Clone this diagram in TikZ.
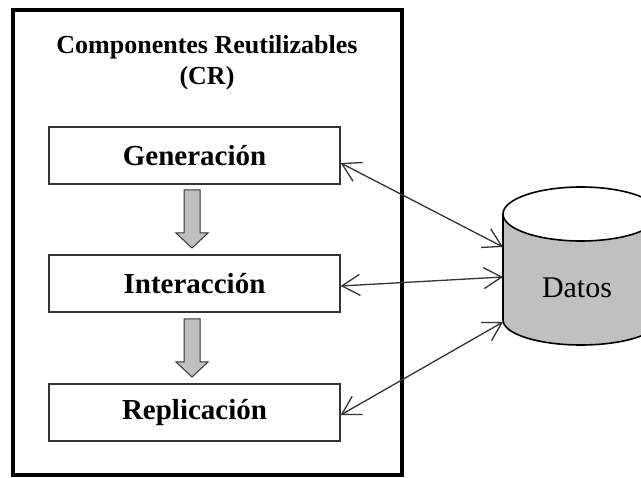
\documentclass[tikz,border=0pt]{standalone}
\usepackage{fontspec}
\setmainfont{Liberation Serif}
\usetikzlibrary{arrows.meta,calc}
\definecolor{cyl}{HTML}{C0C0C0}
\definecolor{ln}{HTML}{333333}
\begin{document}
\begin{tikzpicture}[x=1pt,y=-1pt,
  procbox/.style={draw=ln,line width=1.3pt,minimum width=291pt,minimum height=57pt,inner sep=0pt,
    font=\fontsize{29}{32}\selectfont\bfseries},
  flowarrow/.style={draw=ln,line width=1pt,fill=cyl},
  link/.style={draw=ln,line width=1.3pt,{Straight Barb[length=18pt,width=21pt]}-{Straight Barb[length=18pt,width=21pt]}}
  ]
\useasboundingbox (0,0) rectangle (641,478);
% outer container
\draw[line width=4pt] (13,10) rectangle (402,475);
\node[font=\fontsize{26}{31}\selectfont\bfseries,align=center] (title) at (207,63) {Componentes Reutilizables\\(CR)};
% process boxes
\node[procbox] (gen) at (194.5,155.5) {Generación};
\node[procbox] (int) at (194.5,283.5) {Interacción};
\node[procbox] (rep) at (194.5,412.5) {Replicación};
% gray block arrows
\draw[flowarrow] (184,190) -- (200,190) -- (200,233) -- (208,233) -- (192,248) -- (176,233) -- (184,233) -- cycle;
\draw[flowarrow] (184,319) -- (200,319) -- (200,362) -- (208,362) -- (192,377) -- (176,362) -- (184,362) -- cycle;
% cylinder (database)
\begin{scope}
\clip (0,0) rectangle (641,478);
\filldraw[fill=cyl,draw=black,line width=1.6pt]
  (503,214) -- (503,320) arc[start angle=180,end angle=360,x radius=78pt,y radius=25pt]
  -- (659,214) arc[start angle=0,end angle=-180,x radius=78pt,y radius=27pt] -- cycle;
\draw[line width=1.6pt] (503,214) arc[start angle=180,end angle=360,x radius=78pt,y radius=-27pt];
\end{scope}
\node[font=\fontsize{30}{32}\selectfont] (datos) at (577,288) {Datos};
\coordinate (d1) at (503,247);
\coordinate (d2) at (503,277);
\coordinate (d3) at (503,322);
% connectors
\draw[link] ([yshift=-7.5pt]gen.east) -- (d1);
\draw[link] ([yshift=-2.5pt]int.east) -- (d2);
\draw[link] ([yshift=-2.5pt]rep.east) -- (d3);
\end{tikzpicture}
\end{document}
